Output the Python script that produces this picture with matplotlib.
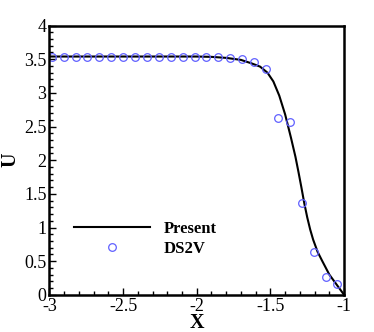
"""Velocity profile U(X): present solution vs DS2V."""
import matplotlib

matplotlib.use("Agg")

import matplotlib.pyplot as plt  # noqa: E402
from matplotlib.ticker import MultipleLocator  # noqa: E402

plt.rcParams["font.family"] = ["Liberation Serif", "DejaVu Serif"]

# Present solution (solid line)
present_x = [-3.00, -2.50, -2.00, -1.90, -1.80, -1.70, -1.63, -1.57, -1.52,
             -1.48, -1.44, -1.40, -1.36, -1.33, -1.31, -1.29, -1.27, -1.25,
             -1.23, -1.21, -1.18, -1.15, -1.10, -1.06, -1.03, -1.00]
present_u = [3.54, 3.54, 3.54, 3.535, 3.52, 3.49, 3.44, 3.39, 3.30,
             3.17, 2.96, 2.68, 2.33, 2.05, 1.83, 1.60, 1.36, 1.15,
             0.97, 0.82, 0.64, 0.51, 0.30, 0.18, 0.09, 0.00]

# DS2V reference points (open circles)
ds2v_x = [-2.984, -2.903, -2.822, -2.742, -2.661, -2.580, -2.499, -2.418,
          -2.338, -2.257, -2.176, -2.095, -2.014, -1.934, -1.853, -1.772,
          -1.691, -1.610, -1.530, -1.449, -1.368, -1.287, -1.206, -1.126,
          -1.045]
ds2v_u = [3.54, 3.54, 3.54, 3.54, 3.54, 3.54, 3.54, 3.54,
          3.54, 3.54, 3.54, 3.54, 3.54, 3.54, 3.53, 3.52,
          3.51, 3.46, 3.36, 2.63, 2.56, 1.36, 0.63, 0.27,
          0.16]

fig = plt.figure(figsize=(3.74, 3.32), dpi=100)
ax = fig.add_axes([0.132, 0.112, 0.788, 0.811])

ax.plot(present_x, present_u, color="black", lw=1.5, label="Present")
ax.plot(ds2v_x, ds2v_u, ls="none", marker="o", ms=5.5, mfc="none",
        mec="#6060ff", mew=0.9, label="DS2V")

ax.set_xlim(-3, -1)
ax.set_ylim(0, 4)
ax.xaxis.set_major_locator(MultipleLocator(0.5))
ax.xaxis.set_minor_locator(MultipleLocator(0.1))
ax.yaxis.set_major_locator(MultipleLocator(0.5))
ax.yaxis.set_minor_locator(MultipleLocator(0.1))
ax.xaxis.set_major_formatter(lambda v, pos: f"{v:g}")
ax.yaxis.set_major_formatter(lambda v, pos: f"{v:g}")

ax.tick_params(which="both", direction="in", top=False, right=False,
               labelsize=13, width=1.0, pad=2)
ax.tick_params(which="major", length=5)
ax.tick_params(which="minor", length=3)
for spine in ax.spines.values():
    spine.set_linewidth(1.8)

ax.set_xlabel("X", fontsize=14.5, fontweight="bold")
ax.set_ylabel("U", fontsize=14.5, fontweight="bold")
ax.xaxis.set_label_coords(0.5, -0.068)
ax.yaxis.set_label_coords(-0.098, 0.5)

ax.legend(loc="upper left", bbox_to_anchor=(0.06, 0.30), frameon=False,
          prop={"size": 12, "weight": "bold"}, handlelength=4.6,
          handletextpad=0.8, labelspacing=0.25, borderaxespad=0)

fig.savefig("out.png", dpi=100)
